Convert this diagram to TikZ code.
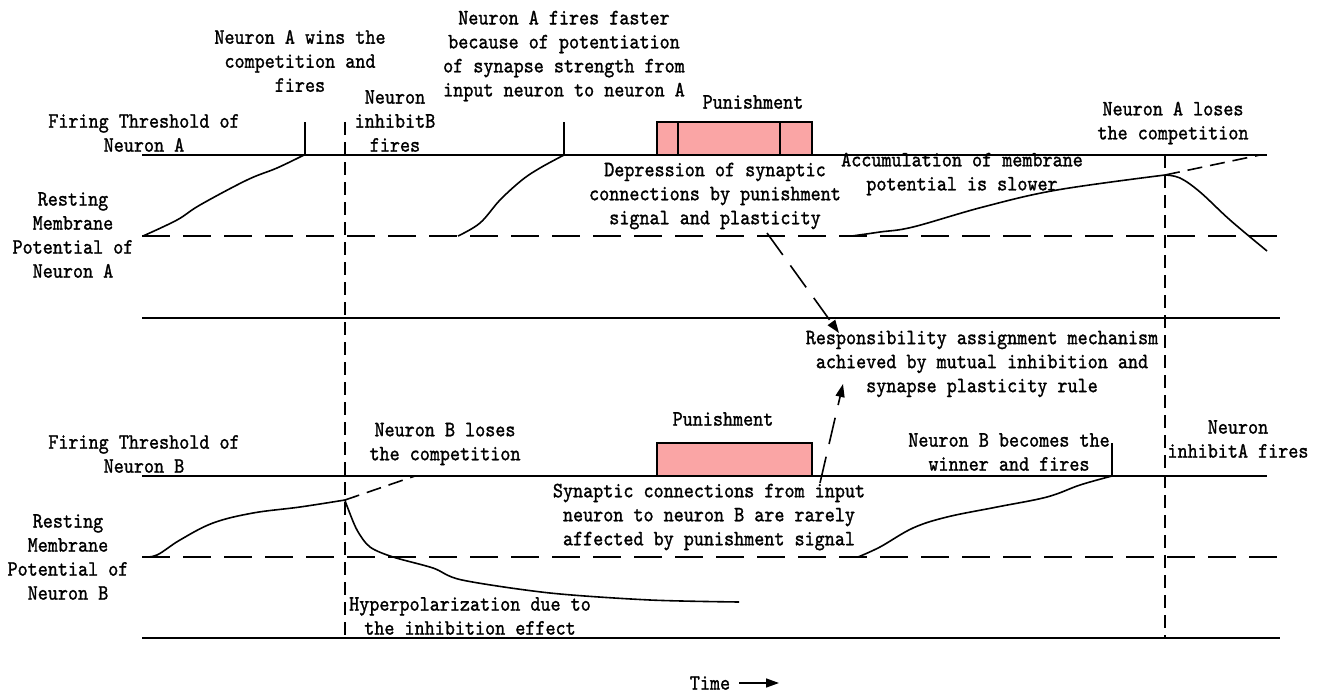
\documentclass[tikz,border=0pt]{standalone}
\usepackage{fontspec}
\usetikzlibrary{arrows.meta}
\newfontfamily\lblfont[FakeStretch=0.875, FakeBold=1.2]{lmmono10-regular.otf}
\definecolor{punish}{RGB}{250,165,165}
\begin{document}
\begin{tikzpicture}[x=1bp,y=-1bp,
  lbl/.style={font=\lblfont\fontsize{22}{24.1}\selectfont, align=center, inner sep=0pt},
  axis/.style={line width=1.6bp},
  restline/.style={line width=1.6bp, dash pattern=on 28bp off 13bp},
  marker/.style={line width=1.5bp, dash pattern=on 13bp off 7bp},
  trace/.style={line width=1.6bp, line join=round},
  ghost/.style={line width=1.6bp, dash pattern=on 15bp off 8bp},
  spike/.style={line width=1.6bp},
  pbox/.style={draw, line width=1.6bp, fill=punish},
  link/.style={line width=1.6bp, dash pattern=on 27bp off 13bp, -{Triangle[length=13bp,width=9bp]}}
]
\useasboundingbox (0,0) rectangle (1322,695);

% ---------- neuron A panel ----------
\draw[axis] (142,155) -- (1267,155);
\draw[restline] (142,236) -- (1278,236);
\draw[axis] (142,318) -- (1280,318);

% ---------- neuron B panel ----------
\draw[axis] (142,476) -- (1267,476);
\draw[restline] (142,557) -- (1278,557);
\draw[axis] (142,638) -- (1280,638);

% time markers
\draw[marker] (345,122) -- (345,638);
\draw[marker] (1165,155) -- (1165,638);

% punishment signals
\draw[pbox] (657,122) rectangle (812,155);
\draw[spike] (678,122) -- (678,155);
\draw[spike] (780,122) -- (780,155);
\draw[pbox] (657,443) rectangle (812,476);

% neuron A membrane potential
\draw[trace] plot[smooth, tension=0.6] coordinates {(143,236) (177,220) (200,205) (247,180) (277,168) (304,155)};
\draw[spike] (305,155) -- (305,122);
\draw[trace] plot[smooth, tension=0.6] coordinates {(458,236) (480,223) (500,200) (522,180) (540,168) (564,155)};
\draw[spike] (564,155) -- (564,122);
\draw[trace] plot[smooth, tension=0.6] coordinates {(852,236) (880,232) (913,227) (983,207) (1057,190) (1165,175)};
\draw[trace] plot[smooth, tension=0.6] coordinates {(1165,175) (1180,178) (1200,192) (1230,220) (1267,251)};
\draw[ghost] (1165,175) -- (1260,155);

% neuron B membrane potential
\draw[trace] plot[smooth, tension=0.6] coordinates {(143,557) (157,555) (180,540) (213,523) (253,513) (300,507) (345,500)};
\draw[ghost] (345,500) -- (415,476);
\draw[trace] plot[smooth, tension=0.5] coordinates {(345,500) (347,506) (357,530) (370,547) (393,557) (433,568) (462,580) (550,593) (650,600) (739,602)};
\draw[trace] plot[smooth, tension=0.6] coordinates {(858,557) (880,547) (913,528) (947,517) (997,507) (1047,497) (1080,485) (1112,476)};
\draw[spike] (1112,476) -- (1112,443);

% ---------- labels ----------
\node[lbl] (winsA) at (300,61) {Neuron A wins the\\competition and\\fires};
\node[lbl] (thrA) at (144,133) {Firing Threshold of\\Neuron A};
\node[lbl] (restA) at (73,235) {Resting\\Membrane\\Potential of\\Neuron A};
\node[lbl] (inhB) at (395,121) {Neuron\\inhibitB\\fires};
\node[lbl] (faster) at (564,56) {Neuron A fires faster\\because of potentiation\\of synapse strength from\\input neuron to neuron A};
\node[lbl] (punA) at (753,102) {Punishment};
\node[lbl] (dep) at (715,196) {Depression of synaptic\\connections by punishment\\signal and plasticity};
\node[lbl] (acc) at (962,174) {Accumulation of membrane\\potential is slower};
\node[lbl] (losesA) at (1173,123) {Neuron A loses\\the competition};
\node[lbl] (resp) at (982,364) {Responsibility assignment mechanism\\achieved by mutual inhibition and\\synapse plasticity rule};
\node[lbl] (thrB) at (144,454) {Firing Threshold of\\Neuron B};
\node[lbl] (restB) at (68,557) {Resting\\Membrane\\Potential of\\Neuron B};
\node[lbl] (losesB) at (445,444) {Neuron B loses\\the competition};
\node[lbl] (punB) at (723,419) {Punishment};
\node[lbl] (syn) at (709,517) {Synaptic connections from input\\neuron to neuron B are rarely\\affected by punishment signal};
\node[lbl] (hyper) at (470,616) {Hyperpolarization due to\\the inhibition effect};
\node[lbl] (becomes) at (1009,452) {Neuron B becomes the\\winner and fires};
\node[lbl] (inhA) at (1238,439) {Neuron\\inhibitA fires};
\node[lbl] (time) at (710,683) {Time};

% ---------- arrows ----------
\coordinate (depEnd) at (767,233);
\coordinate (respTop) at (839,333);
\coordinate (synEnd) at (820,483);
\coordinate (respBot) at (843,384);
\coordinate (timeTip) at (779,683);
\draw[link] (depEnd) -- (respTop);
\draw[link] (synEnd) -- (respBot);
\draw[line width=1.6bp, -{Triangle[length=13bp,width=9bp]}] ([xshift=9bp]time.east) -- (timeTip);
\end{tikzpicture}
\end{document}
